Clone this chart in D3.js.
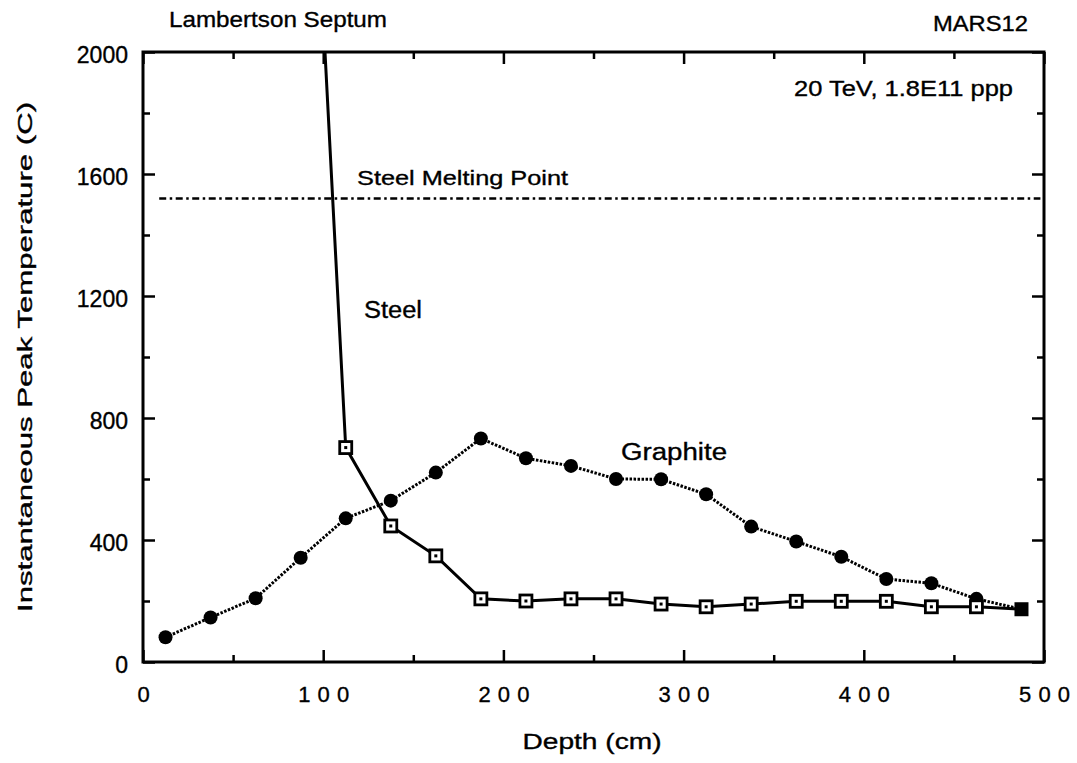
<!DOCTYPE html>
<html>
<head>
<meta charset="utf-8">
<script src="https://cdn.jsdelivr.net/npm/d3@7"></script>
<style>
  body { margin: 0; background: #fff; }
  text { font-family: "Liberation Sans", Arial, sans-serif; fill: #000; stroke: #000; stroke-width: 0.35px; }
</style>
</head>
<body>
<script>
// Depth bins (cm) and peak temperatures (C)
var graphiteDepth = [12.5, 37.5, 62.5, 87.5, 112.5, 137.5, 162.5, 187.5, 212.5, 237.5,
  262.5, 287.5, 312.5, 337.5, 362.5, 387.5, 412.5, 437.5, 462.5, 487.5];
var graphiteTemp = [81, 146, 209, 342, 471, 529, 621, 733, 668, 643,
  600, 599, 550, 444, 395, 345, 272, 258, 207, 173];

var steelDepth = [87.5, 112.5, 137.5, 162.5, 187.5, 212.5, 237.5, 262.5, 287.5,
  312.5, 337.5, 362.5, 387.5, 412.5, 437.5, 462.5, 487.5];
var steelTemp = [3520, 703, 446, 348, 207, 200, 207, 207, 190,
  181, 190, 199, 199, 199, 181, 181, 173];

var meltingPoint = 1520;
var meltingRange = [9, 498];

var xMajorTicks = [0, 100, 200, 300, 400, 500];
var xMinorTicks = [50, 150, 250, 350, 450];
var yMajorTicks = [0, 400, 800, 1200, 1600, 2000];
var yMinorTicks = [200, 600, 1000, 1400, 1800];

// Page and plot frame
var svgWidth = 1077;
var svgHeight = 763;
var frame = { left: 143, right: 1044, top: 52, bottom: 662 };

var svg = d3.select("body")
  .append("svg")
  .attr("width", svgWidth)
  .attr("height", svgHeight);

var x = d3.scaleLinear().domain([0, 500]).range([frame.left, frame.right]);
var y = d3.scaleLinear().domain([0, 2000]).range([frame.bottom, frame.top]);

svg.append("clipPath").attr("id", "plot")
  .append("rect")
  .attr("x", frame.left).attr("y", frame.top)
  .attr("width", frame.right - frame.left)
  .attr("height", frame.bottom - frame.top);

// Axes: ticks point inward on all four sides
function styleAxis(g) {
  g.select(".domain").remove();
  g.selectAll(".tick line").attr("stroke", "#000").attr("stroke-width", 2.5);
}

svg.append("g")
  .attr("transform", `translate(0,${frame.bottom})`)
  .call(d3.axisBottom(x).tickValues(xMajorTicks).tickSizeInner(-12).tickPadding(24).tickFormat(d3.format("d")))
  .call(styleAxis)
  .call(g => g.selectAll(".tick text")
    .attr("font-size", 22)
    .attr("font-family", "Liberation Sans, Arial, sans-serif")
    .each(function(d) {
      var s = String(d);
      if (s.length > 1) d3.select(this).attr("textLength", (s.length - 1) * 19 + 13).attr("lengthAdjust", "spacing");
    }));

svg.append("g")
  .attr("transform", `translate(0,${frame.bottom})`)
  .call(d3.axisBottom(x).tickValues(xMinorTicks).tickSizeInner(-7).tickFormat(""))
  .call(styleAxis);

svg.append("g")
  .attr("transform", `translate(0,${frame.top})`)
  .call(d3.axisTop(x).tickValues(xMajorTicks).tickSizeInner(-12).tickFormat(""))
  .call(styleAxis);

svg.append("g")
  .attr("transform", `translate(0,${frame.top})`)
  .call(d3.axisTop(x).tickValues(xMinorTicks).tickSizeInner(-7).tickFormat(""))
  .call(styleAxis);

svg.append("g")
  .attr("transform", `translate(${frame.left},0)`)
  .call(d3.axisLeft(y).tickValues(yMajorTicks).tickSizeInner(-12).tickPadding(15).tickFormat(d3.format("d")))
  .call(styleAxis)
  .call(g => g.selectAll(".tick text")
    .attr("font-size", 23)
    .attr("font-family", "Liberation Sans, Arial, sans-serif")
    .attr("dy", "0.45em"));

svg.append("g")
  .attr("transform", `translate(${frame.left},0)`)
  .call(d3.axisLeft(y).tickValues(yMinorTicks).tickSizeInner(-7).tickFormat(""))
  .call(styleAxis);

svg.append("g")
  .attr("transform", `translate(${frame.right},0)`)
  .call(d3.axisRight(y).tickValues(yMajorTicks).tickSizeInner(-12).tickFormat(""))
  .call(styleAxis);

svg.append("g")
  .attr("transform", `translate(${frame.right},0)`)
  .call(d3.axisRight(y).tickValues(yMinorTicks).tickSizeInner(-7).tickFormat(""))
  .call(styleAxis);

svg.append("rect")
  .attr("x", frame.left).attr("y", frame.top)
  .attr("width", frame.right - frame.left)
  .attr("height", frame.bottom - frame.top)
  .attr("fill", "none")
  .attr("stroke", "#000")
  .attr("stroke-width", 3);

// Steel melting point reference line
svg.append("line")
  .attr("x1", x(meltingRange[0])).attr("x2", x(meltingRange[1]))
  .attr("y1", y(meltingPoint)).attr("y2", y(meltingPoint))
  .attr("stroke", "#000")
  .attr("stroke-width", 2.5)
  .attr("stroke-dasharray", "7,3.5,2.5,3.5");

var plot = svg.append("g").attr("clip-path", "url(#plot)");

var graphite = graphiteDepth.map((d, i) => ({ depth: d, temp: graphiteTemp[i] }));
var steel = steelDepth.map((d, i) => ({ depth: d, temp: steelTemp[i] }));

var drawLine = d3.line()
  .x(d => x(d.depth))
  .y(d => y(d.temp));

plot.append("path")
  .attr("d", drawLine(graphite))
  .attr("fill", "none")
  .attr("stroke", "#000")
  .attr("stroke-width", 3)
  .attr("stroke-dasharray", "2.5,1.5");

plot.append("path")
  .attr("d", drawLine(steel))
  .attr("fill", "none")
  .attr("stroke", "#000")
  .attr("stroke-width", 3);

// Graphite markers (filled), last point is shared -> drawn as filled square
var lastDepth = steelDepth[steelDepth.length - 1];

plot.selectAll(".gdot")
  .data(graphite.filter(d => d.depth !== lastDepth))
  .join("circle")
  .attr("cx", d => x(d.depth))
  .attr("cy", d => y(d.temp))
  .attr("r", 7)
  .attr("fill", "#000");

var steelPts = steel.filter(d => d.temp <= 2000 && d.depth !== lastDepth);

plot.selectAll(".sbox")
  .data(steelPts)
  .join("rect")
  .attr("x", d => x(d.depth) - 6)
  .attr("y", d => y(d.temp) - 6)
  .attr("width", 12)
  .attr("height", 12)
  .attr("fill", "#fff")
  .attr("stroke", "#000")
  .attr("stroke-width", 2.8);

plot.selectAll(".sdot")
  .data(steelPts)
  .join("rect")
  .attr("x", d => x(d.depth) - 1.5)
  .attr("y", d => y(d.temp) - 1.5)
  .attr("width", 3)
  .attr("height", 3)
  .attr("fill", "#000");

plot.selectAll(".shared")
  .data(steel.filter(d => d.depth === lastDepth))
  .join("rect")
  .attr("x", d => x(d.depth) - 7)
  .attr("y", d => y(d.temp) - 7)
  .attr("width", 14)
  .attr("height", 14)
  .attr("fill", "#000");

// Texts
function label(txt, px, py, size, len, anchor) {
  var t = svg.append("text")
    .attr("x", px).attr("y", py)
    .attr("font-size", size)
    .attr("text-anchor", anchor || "start")
    .text(txt);
  if (len) t.attr("textLength", len).attr("lengthAdjust", "spacingAndGlyphs");
  return t;
}

label("Lambertson Septum", 169, 27, 22, 218);
label("MARS12", 1028, 31, 22, 95, "end");
label("20 TeV, 1.8E11 ppp", 794, 96, 22, 219);
label("Steel Melting Point", 357, 185, 21, 211);
label("Steel", 364, 318, 23, 58);
label("Graphite", 621, 460, 23, 106);
label("Depth  (cm)", 592, 749, 22, 139, "middle");

svg.append("text")
  .attr("transform", "translate(32,357) rotate(-90)")
  .attr("text-anchor", "middle")
  .attr("font-size", 21)
  .attr("textLength", 510)
  .attr("lengthAdjust", "spacingAndGlyphs")
  .text("Instantaneous Peak Temperature (C)");
</script>
</body>
</html>
